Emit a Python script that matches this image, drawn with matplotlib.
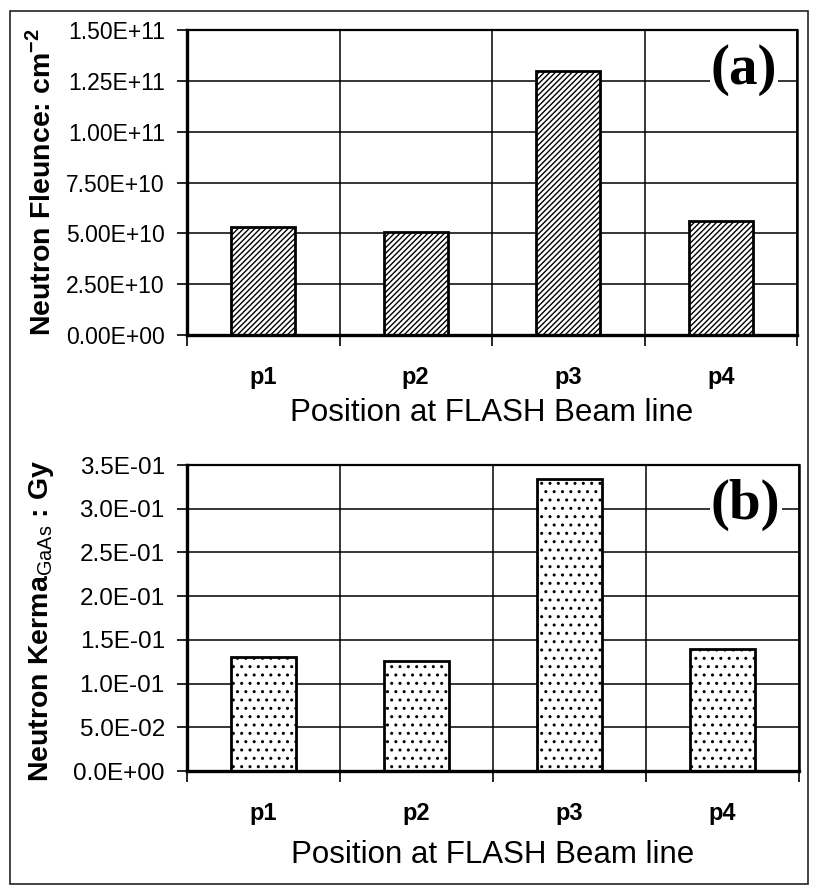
import matplotlib
matplotlib.use("Agg")
import matplotlib.pyplot as plt
from matplotlib.patches import Rectangle

plt.rcParams['font.family'] = ['Liberation Sans', 'DejaVu Sans']
plt.rcParams['mathtext.fontset'] = 'custom'
plt.rcParams['mathtext.rm'] = 'Liberation Sans'
plt.rcParams['mathtext.bf'] = 'Liberation Sans:bold'
plt.rcParams['hatch.linewidth'] = 1.0

positions = ["p1", "p2", "p3", "p4"]
fluence = [5.32e10, 5.08e10, 1.30e11, 5.62e10]
kerma = [0.130, 0.126, 0.334, 0.1395]

fluence_ticks = [0, 2.5e10, 5.0e10, 7.5e10, 1.0e11, 1.25e11, 1.5e11]
fluence_ticklabels = ["0.00E+00", "2.50E+10", "5.00E+10", "7.50E+10",
                      "1.00E+11", "1.25E+11", "1.50E+11"]
kerma_ticks = [0, 0.05, 0.10, 0.15, 0.20, 0.25, 0.30, 0.35]
kerma_ticklabels = ["0.0E+00", "5.0E-02", "1.0E-01", "1.5E-01",
                    "2.0E-01", "2.5E-01", "3.0E-01", "3.5E-01"]

xlabel = "Position at FLASH Beam line"
ylabel_a = r"Neutron Fleunce: cm$^{\mathbf{-2}}$"
ylabel_b = r"Neutron Kerma$_{\mathrm{GaAs}}$ : Gy"

W, H = 813, 886
fig = plt.figure(figsize=(W / 100, H / 100), dpi=100)

# outer frame
fig.patches.append(Rectangle((10 / W, 1 - 884 / H), (808 - 10) / W, (884 - 11) / H,
                             transform=fig.transFigure, fill=False,
                             edgecolor='#222222', linewidth=1.2))

def px_axes(l, t, r, b):
    return fig.add_axes([l / W, 1 - b / H, (r - l) / W, (b - t) / H])

ax1 = px_axes(187, 30, 797, 335)
ax2 = px_axes(187, 465, 799, 771)

def style(ax, values, ticks, ticklabels, hatch, ylabel, ylab_y, xlab_y, letter, tfs):
    x = list(range(len(positions)))
    ax.bar(x, values, width=0.42, color='white', edgecolor='black',
           linewidth=2.0, hatch=hatch, zorder=3)
    ax.set_xlim(-0.5, len(positions) - 0.5)
    ax.set_ylim(ticks[0], ticks[-1])
    ax.set_yticks(ticks)
    ax.set_yticklabels(ticklabels, fontsize=tfs)
    ax.set_xticks(x)
    ax.set_xticklabels(positions, fontsize=17, fontweight='bold')
    ax.set_xticks([i - 0.5 for i in range(len(positions) + 1)], minor=True)
    ax.tick_params(axis='x', which='major', length=0, pad=22)
    ax.tick_params(axis='x', which='minor', length=8, width=1.2, direction='out')
    ax.tick_params(axis='y', which='major', length=7, width=1.2, direction='out', pad=9)
    ax.grid(True, axis='y', which='major', color='black', linewidth=1.1, zorder=1)
    ax.grid(True, axis='x', which='minor', color='black', linewidth=1.1, zorder=1)
    ax.set_axisbelow(True)
    for side, lw in [('left', 2.4), ('bottom', 2.4), ('top', 1.6), ('right', 1.8)]:
        ax.spines[side].set_linewidth(lw)
        ax.spines[side].set_zorder(4)
    ax.set_xlabel(xlabel, fontsize=22.5)
    ax.xaxis.set_label_coords(0.5, xlab_y)
    ax.xaxis.label.set_va('center')
    ax.set_ylabel(ylabel, fontsize=20.5, fontweight='bold')
    ax.yaxis.set_label_coords(-0.238, ylab_y)
    ax.yaxis.label.set_va('center')
    ax.text(0.913, 0.869, letter, transform=ax.transAxes, ha='center', va='center',
            fontsize=41, fontweight='bold', family='Liberation Serif', zorder=5,
            bbox=dict(facecolor='white', edgecolor='none', pad=1.0))

style(ax1, fluence, fluence_ticks, fluence_ticklabels, '//////', ylabel_a, 0.5, -0.256, "(a)", 16.5)
style(ax2, kerma, kerma_ticks, kerma_ticklabels, '..', ylabel_b, 0.49, -0.275, "(b)", 17.5)

fig.savefig("out.png", dpi=100)
